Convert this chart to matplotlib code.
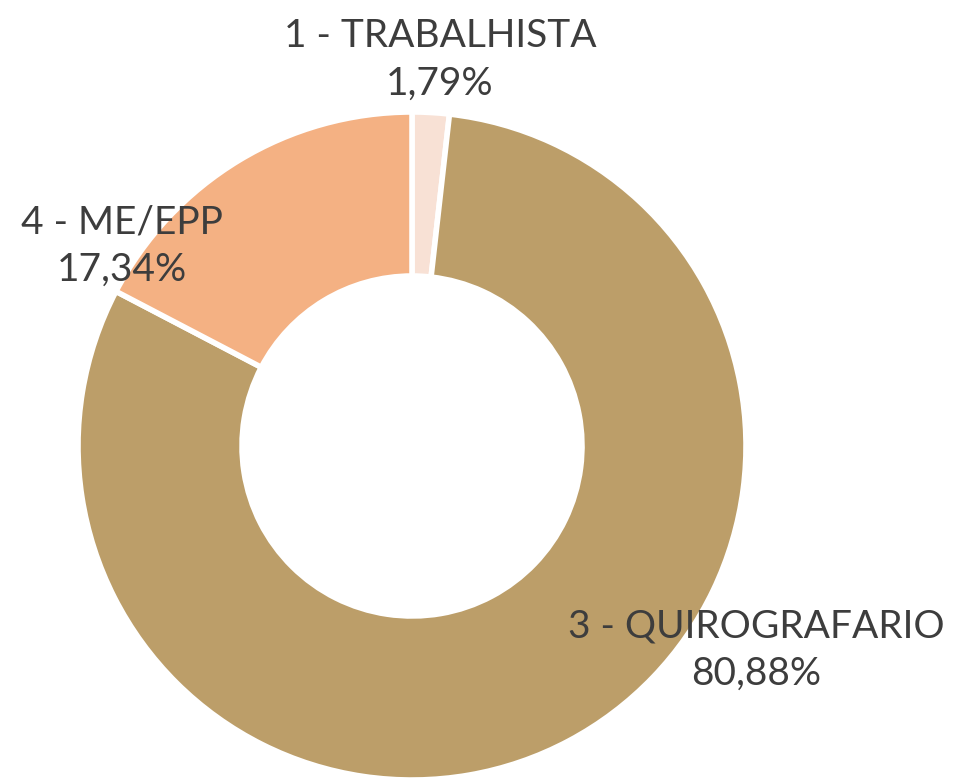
import matplotlib.pyplot as plt

# Dados
categorias = ['1 - TRABALHISTA', '3 - QUIROGRAFARIO', '4 - ME/EPP']
percentuais = [1.79, 80.88, 17.34]
rotulos_pct = ['1,79%', '80,88%', '17,34%']
cores = ['#F8E1D5', '#BC9E69', '#F4B183']

W, H = 957, 779
fig = plt.figure(figsize=(W / 100, H / 100), dpi=100)
ax = fig.add_axes([0, 0, 1, 1])

# rosca (coordenadas em pixels)
cx, cy, R = 412, H - 446, 334
wedges, _ = ax.pie(percentuais, startangle=90, counterclock=False, colors=cores,
                   center=(cx, cy), radius=R,
                   wedgeprops=dict(width=R - 170, edgecolor='white', linewidth=4))

ax.set_xlim(0, W)
ax.set_ylim(0, H)
ax.set_aspect('equal')
ax.axis('off')

# posições dos rótulos (pixels, origem no topo)
pos_rotulos = [(440, 60), (756, 650), (122, 246)]
for nome, pct, (x, y) in zip(categorias, rotulos_pct, pos_rotulos):
    ax.text(x, H - y, nome + '\n' + pct, ha='center', va='center',
            fontsize=28, color='#3d3d3d', family='Lato', linespacing=1.4)

plt.savefig('out.png', dpi=100)
